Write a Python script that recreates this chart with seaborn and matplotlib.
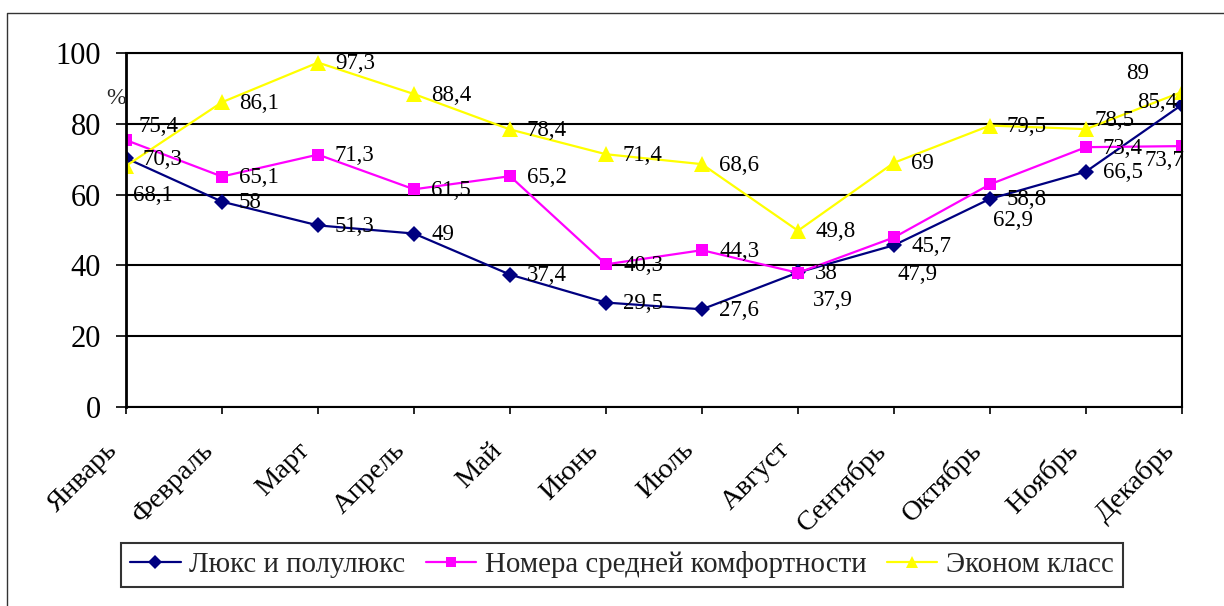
import matplotlib
matplotlib.use("Agg")
import matplotlib.pyplot as plt
from matplotlib.lines import Line2D
from matplotlib.transforms import ScaledTranslation
import pandas as pd
import seaborn as sns

months = ["Январь", "Февраль", "Март", "Апрель", "Май", "Июнь", "Июль",
          "Август", "Сентябрь", "Октябрь", "Ноябрь", "Декабрь"]
series_names = ["Люкс и полулюкс", "Номера средней комфортности", "Эконом класс"]
lux = [70.3, 58, 51.3, 49, 37.4, 29.5, 27.6, 38, 45.7, 58.8, 66.5, 85.4]
middle = [75.4, 65.1, 71.3, 61.5, 65.2, 40.3, 44.3, 37.9, 47.9, 62.9, 73.4, 73.7]
econom = [68.1, 86.1, 97.3, 88.4, 78.4, 71.4, 68.6, 49.8, 69, 79.5, 78.5, 89]

colors = ["#000080", "#FF00FF", "#FFFF00"]
markers = ["D", "s", "^"]
msizes = [8.5, 8.5, 11]

# label offsets in pixels (dx, dy downwards); default is right of the point
STD = (17, 1)
label_offsets = [
    {11: (-45, -2)},
    {0: (12, -14), 7: (15, 28), 8: (3, 37), 9: (3, 36), 11: (-38, 14)},
    {0: (7, 30), 10: (9, -9), 11: (-56, -18)},
]

df = pd.concat([
    pd.DataFrame({"idx": range(len(months)), "value": vals, "series": name})
    for name, vals in zip(series_names, [lux, middle, econom])
])

sns.set_theme(style="white")
plt.rcParams["font.family"] = ["Liberation Serif", "DejaVu Serif"]

fig = plt.figure(figsize=(12.24, 6.06), dpi=100)
ax = fig.add_axes([126 / 1224, 1 - 407 / 606, (1182 - 126) / 1224, (407 - 53) / 606])

sns.lineplot(data=df, x="idx", y="value", hue="series", style="series",
             palette=dict(zip(series_names, colors)),
             markers=dict(zip(series_names, markers)), dashes=False,
             markeredgewidth=0, linewidth=1.6, ax=ax, legend=False)
for line, ms in zip(ax.lines, msizes):
    line.set_markersize(ms)

for k, vals in enumerate([lux, middle, econom]):
    for i, v in enumerate(vals):
        dx, dy = label_offsets[k].get(i, STD)
        txt = f"{v:g}".replace(".", ",")
        ax.annotate(txt, (i, v), xytext=(dx, -dy), textcoords="offset pixels",
                    ha="left", va="center", fontsize=16.5, color="black")

ax.set_xlim(0, 11)
ax.set_ylim(0, 100)
ax.set_yticks(range(0, 101, 20))
ax.set_xticks(range(len(months)))
ax.set_xticklabels(months, rotation=45, ha="right", rotation_mode="anchor")
ax.tick_params(axis="y", labelsize=22, length=7, width=1.2, direction="out",
               left=True, pad=11, colors="black")
ax.tick_params(axis="x", labelsize=20.5, length=5, width=1.2, direction="out",
               bottom=True, pad=17, colors="black")
shift = ScaledTranslation(-0.21, 0, fig.dpi_scale_trans)
for lbl in ax.get_xticklabels():
    lbl.set_transform(lbl.get_transform() + shift)
ax.set_xlabel("")
ax.set_ylabel("")
ax.grid(axis="y", color="black", linewidth=1.5)
ax.set_axisbelow(True)
for s in ax.spines.values():
    s.set_color("black")
    s.set_linewidth(1.5)
ax.spines["left"].set_linewidth(2)
ax.set_facecolor("white")

fig.text(116 / 1224, 1 - 98 / 606, "%", fontsize=17, ha="center", va="center")

handles = [Line2D([], [], color=c, marker=m, markersize=ms * 0.85, markeredgewidth=0,
                  linewidth=1.6) for c, m, ms in zip(colors, markers, msizes)]
leg = fig.legend(handles, series_names, loc="center", ncol=3,
                 bbox_to_anchor=(622 / 1224, 1 - 565 / 606), fontsize=20.8,
                 frameon=True, fancybox=False, handlelength=1.75,
                 columnspacing=0.7, handletextpad=0.3, borderpad=0.3)
leg.get_frame().set_edgecolor("black")
leg.get_frame().set_linewidth(1.5)

# outer chart border (top and left)
fig.add_artist(Line2D([7 / 1224, 7 / 1224, 1], [0, 1 - 13 / 606, 1 - 13 / 606],
                      transform=fig.transFigure, color="#333333", linewidth=1))

fig.savefig("out.png", dpi=100)
